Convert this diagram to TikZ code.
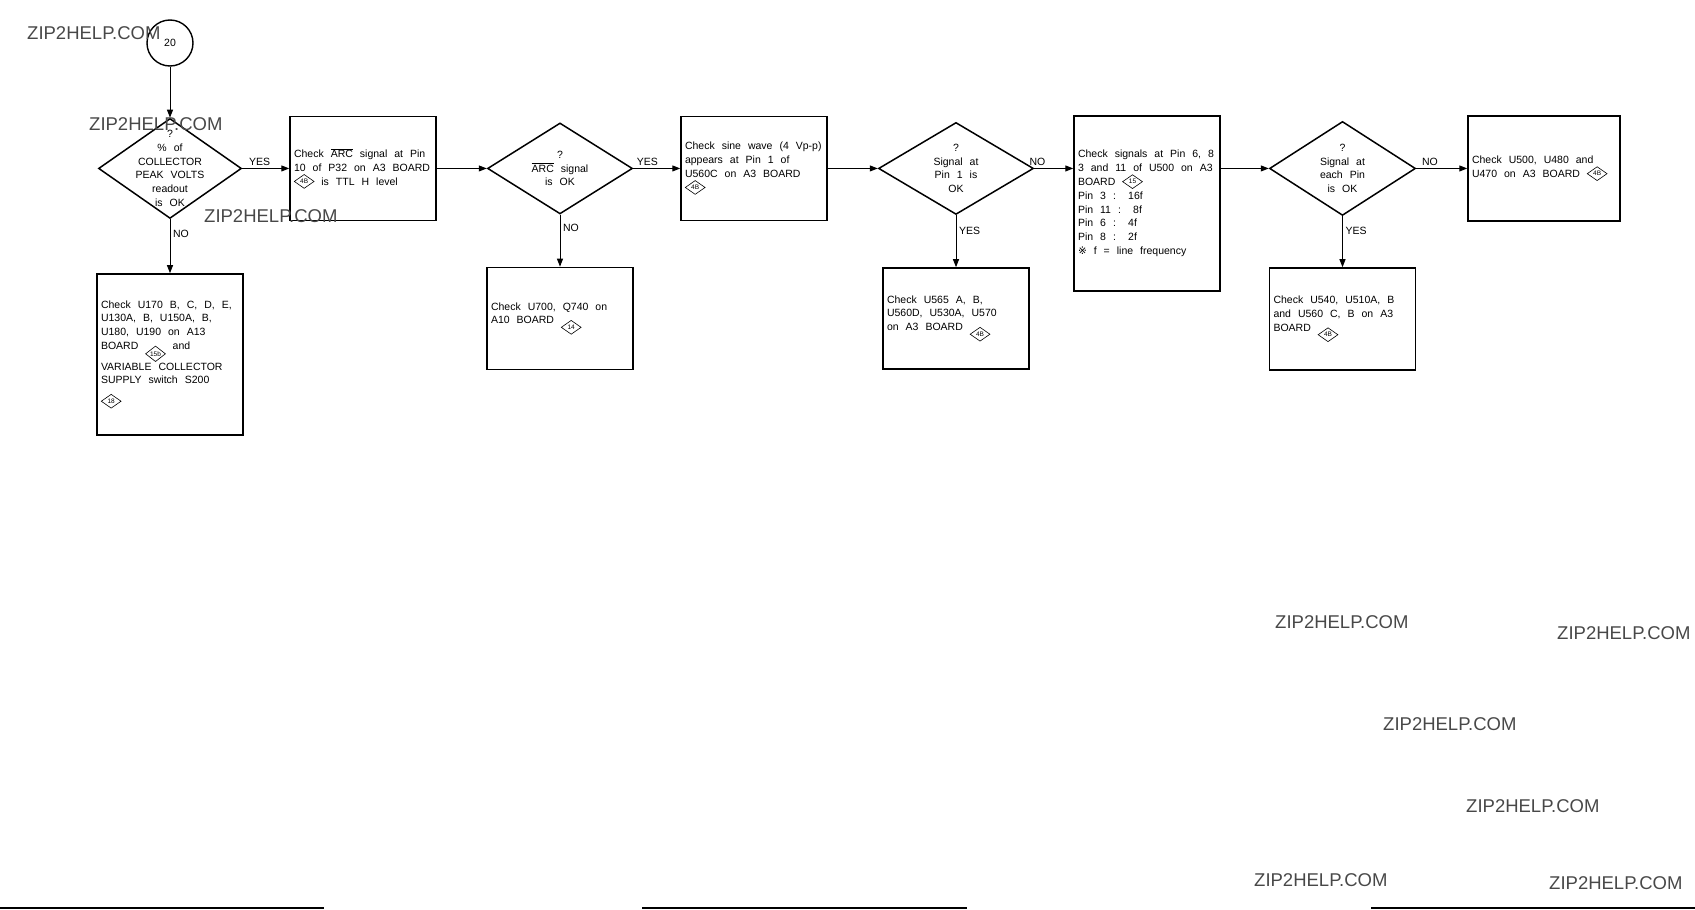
\documentclass[tikz,border=0pt]{standalone}
\usepackage{fontspec}
\setmainfont{Liberation Sans}
\newfontfamily\wmfont{Liberation Sans}
\newfontfamily\symfont{DejaVu Sans}
\usetikzlibrary{positioning,shapes.geometric,arrows.meta}
\definecolor{wmgray}{RGB}{72,72,72}
% wide word spaces as in the printed chart
\newcommand{\widesp}{\spaceskip 7pt minus 1.5pt\relax}
% small diamond with a figure reference
\newcommand{\refmark}[1]{\tikz[baseline=-3.8pt]\node[draw,diamond,inner sep=0pt,minimum width=20pt,minimum height=14pt,line width=0.6pt,font=\fontsize{6.5}{6.5}\selectfont] (rm) {#1};}

\begin{document}
\begin{tikzpicture}[x=1pt,y=1pt,
  txt/.style={font=\fontsize{10.5}{13.8}\selectfont\widesp},
  box/.style={draw,line width=1.5pt,rectangle,txt,align=left,text width=138pt,inner xsep=4pt,inner ysep=0pt,execute at begin node=\widesp},
  decision/.style={draw,line width=1.5pt,diamond,inner sep=0pt},
  dtext/.style={txt,align=center,inner sep=0pt},
  lbl/.style={txt,inner sep=2.5pt},
  flow/.style={line width=1pt,-{Triangle[length=8pt,width=6pt]}},
  wmark/.style={font=\wmfont\fontsize{18.5}{18.5}\selectfont,text=wmgray,anchor=west,inner sep=0pt}]
\useasboundingbox (0,0) rectangle (1695,-910);

% Create nodes for the checks
\node[draw,circle,line width=1.4pt,minimum size=46pt,txt] (start) at (170,-43) {20};
\node[decision,minimum width=143pt,minimum height=100pt,below=51pt of start] (d1) {};
\node[dtext] (d1t) at (d1) {?\\\% of\\COLLECTOR\\PEAK VOLTS\\readout\\is OK};
\node[box,minimum height=104pt,right=47pt of d1] (b1) {Check $\overline{\mbox{ARC}}$ signal at Pin\\10 of P32 on A3 BOARD\\\refmark{4B} is TTL H level};
\node[box,minimum height=161pt,below=54pt of d1] (n1) {Check U170 B, C, D, E,\\U130A, B, U150A, B,\\U180, U190 on A13\\BOARD \refmark{15b} and\\VARIABLE COLLECTOR\\SUPPLY switch S200\\\refmark{18}};

\node[decision,minimum width=145pt,minimum height=91pt,right=50pt of b1] (d2) {};
\node[dtext] (d2t) at (d2) {?\\$\overline{\mbox{ARC}}$ signal\\is OK};
\node[box,minimum height=102pt,below=52pt of d2] (n2) {Check U700, Q740 on\\A10 BOARD \refmark{14}};
\node[box,minimum height=104pt,right=47pt of d2] (b2) {Check sine wave (4 Vp-p)\\appears at Pin 1 of\\U560C on A3 BOARD\\\refmark{4B}};

\node[decision,minimum width=155pt,minimum height=92pt,right=50pt of b2] (d3) {};
\node[dtext] (d3t) at (d3) {?\\Signal at\\Pin 1 is\\OK};
\node[box,minimum height=101pt,below=52pt of d3] (y3) {Check U565 A, B,\\U560D, U530A, U570\\on A3 BOARD \refmark{4B}};
\node[box,minimum height=175pt,right=39pt of d3,yshift=-35pt] (b3) {Check signals at Pin 6, 8\\3 and 11 of U500 on A3\\BOARD \refmark{15}\\Pin 3 : \ 16f\\Pin 11 : \ 8f\\Pin 6 : \ 4f\\Pin 8 : \ 2f\\{\symfont ※} f = line frequency};
\coordinate (b3r) at (b3.east |- d3.east);

\node[decision,minimum width=146pt,minimum height=94pt,right=48pt of b3r] (d4) {};
\node[dtext] (d4t) at (d4) {?\\Signal at\\each Pin\\is OK};
\node[box,text width=144pt,minimum height=105pt,right=51pt of d4] (n4) {Check U500, U480 and\\U470 on A3 BOARD \refmark{4B}};
\node[box,minimum height=102pt,below=51pt of d4] (y4) {Check U540, U510A, B\\and U560 C, B on A3\\BOARD \refmark{4B}};

% Connections
\draw[flow] (start) -- (d1);
\draw[flow] (d1) -- node[lbl,above,pos=0.37] (yes1) {YES} (b1);
\draw[flow] (d1) -- node[lbl,right,pos=0.28] (no1) {NO} (n1);
\draw[flow] (b1) -- (d2);
\draw[flow] (d2) -- node[lbl,above,pos=0.3] (yes2) {YES} (b2);
\draw[flow] (d2) -- node[lbl,right,pos=0.25] (no2) {NO} (n2);
\draw[flow] (b2) -- (d3);
\draw[flow] (d3) -- node[lbl,right,pos=0.31] (yes3) {YES} (y3);
\draw[flow] (d3.east) -- node[lbl,above,pos=0.08] (no3) {NO} (d3.east -| b3.west);
\draw[flow] (b3r) -- (d4);
\draw[flow] (d4) -- node[lbl,above,pos=0.27] (no4) {NO} (n4);
\draw[flow] (d4) -- node[lbl,right,pos=0.29] (yes4) {YES} (y4);

% page rules at the foot
\draw[line width=1.6pt] (0,-908) -- (324,-908) (642,-908) -- (967,-908) (1371,-908) -- (1695,-908);

% watermarks
\foreach \wx/\wy [count=\i] in {27/33,89/124,204/216,1275/622,1557/633,1383/724,1466/806,1254/880,1549/883}
  \node[wmark] (wm\i) at (\wx,-\wy) {ZIP2HELP.COM};
\end{tikzpicture}
\end{document}
